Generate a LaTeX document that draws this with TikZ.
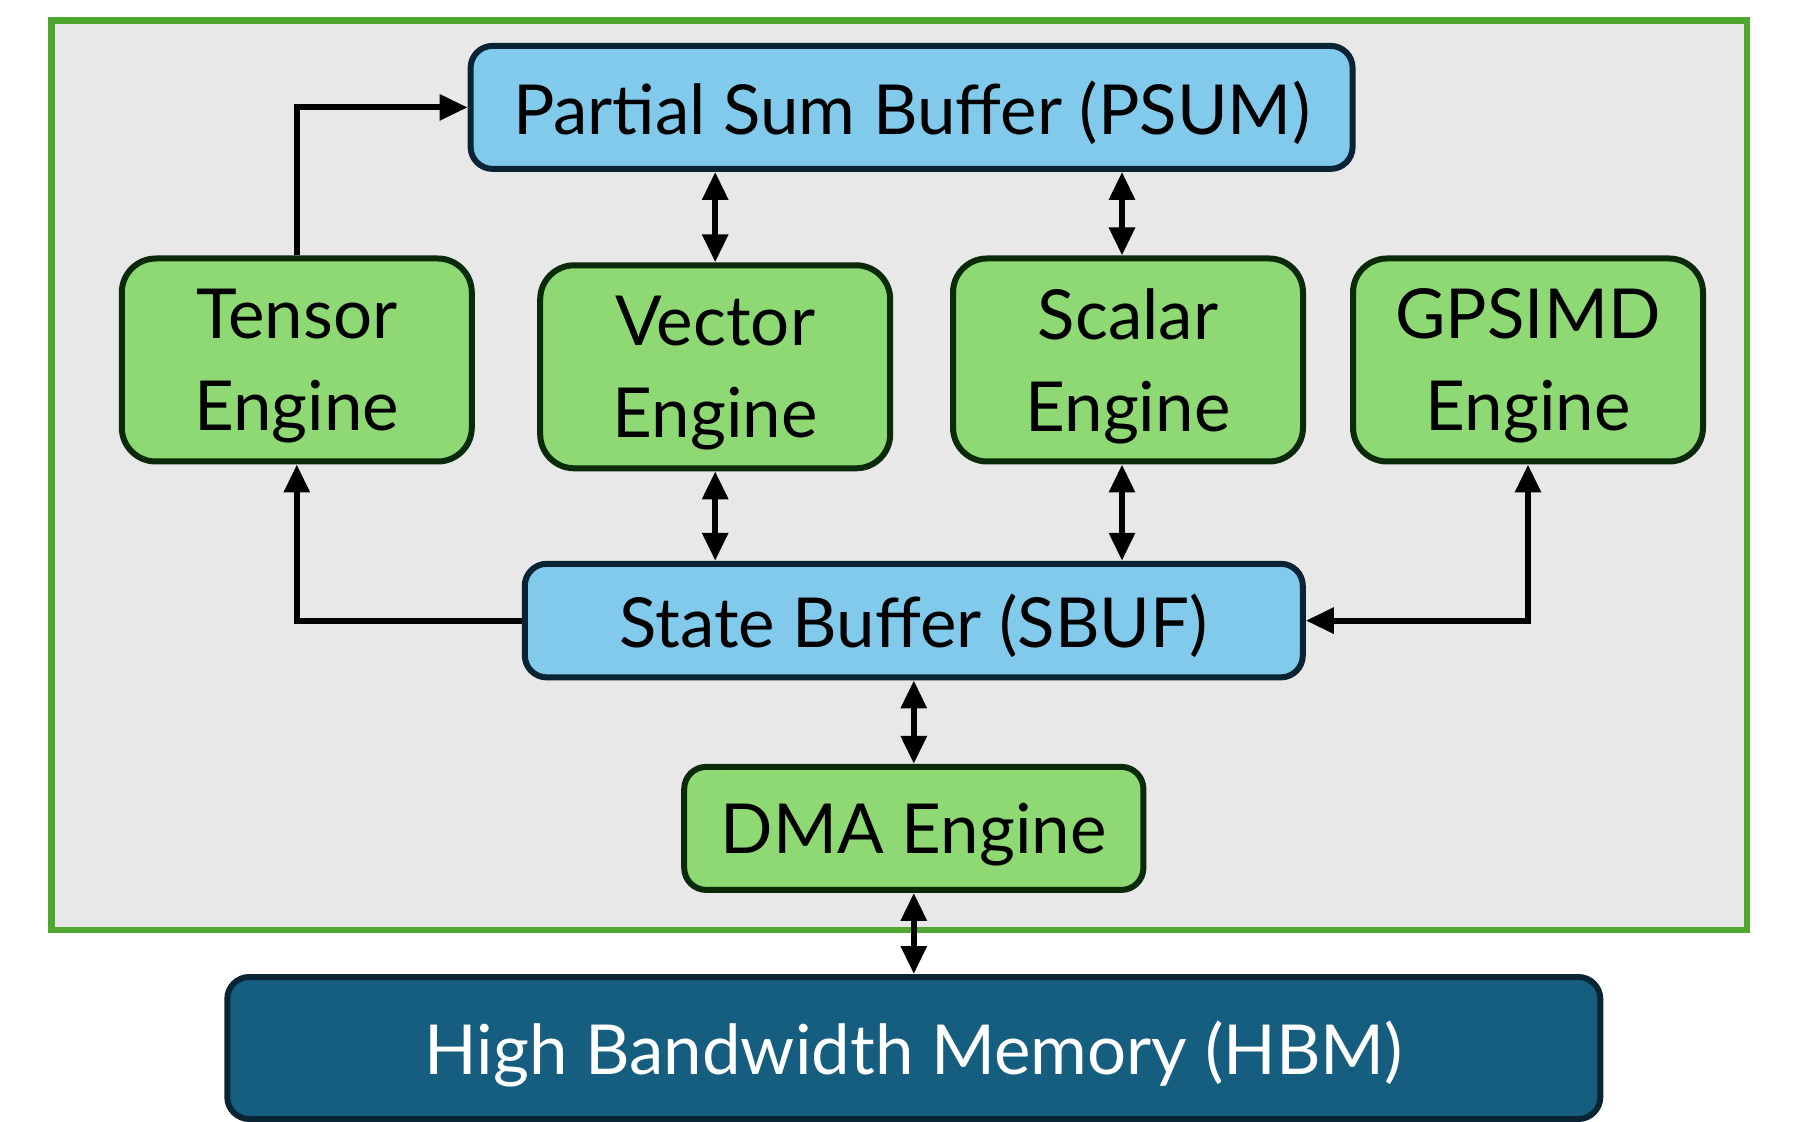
\documentclass[tikz,border=0pt]{standalone}
\usepackage{fontspec}
\setmainfont{Lato}
\usetikzlibrary{arrows.meta}
\definecolor{bufblue}{HTML}{82CAEB}
\definecolor{bufedge}{HTML}{0B2433}
\definecolor{enggreen}{HTML}{8ED974}
\definecolor{engedge}{HTML}{0A2A0A}
\definecolor{hbmblue}{HTML}{165E80}
\definecolor{framegreen}{HTML}{4EA72E}
\definecolor{framefill}{HTML}{E8E8E8}
\tikzset{
  txt/.style={font=\fontsize{34.5}{46}\selectfont, align=center, inner sep=0pt, text depth=0pt},
  bufbox/.style={txt, draw=bufedge, fill=bufblue, line width=3pt, rounded corners=11pt},
  engbox/.style={txt, draw=engedge, fill=enggreen, line width=3pt, rounded corners=17pt,
    minimum width=175pt, minimum height=101.5pt},
  hbmbox/.style={txt, draw=bufedge, fill=hbmblue, text=white, line width=3pt, rounded corners=11pt},
  conn/.style={line width=3pt, black},
  tip/.style={-{Triangle[width=12.5pt,length=14pt]}},
  biarr/.style={{Triangle[width=12.5pt,length=14pt]}-{Triangle[width=12.5pt,length=14pt]}}
}
\begin{document}
\begin{tikzpicture}[x=1pt,y=-1pt]
\useasboundingbox (0,0) rectangle (900,561);
\draw[draw=framegreen, fill=framefill, line width=3.4pt] (25.9,10.4) rectangle (873.5,465);
\node[bufbox, minimum width=441pt, minimum height=61.5pt] (psum) at (455.8,53.7) {Partial Sum Buffer (PSUM)};
\node[engbox] (tensor) at (148.4,180) {Tensor\\Engine};
\node[engbox] (vector) at (357.6,183.4) {Vector\\Engine};
\node[engbox] (scalar) at (564,180) {Scalar\\Engine};
\node[engbox] (gpsimd) at (764,180) {GPSIMD\\Engine};
\node[bufbox, minimum width=389pt, minimum height=56.8pt] (sbuf) at (456.9,310.3) {State Buffer (SBUF)};
\node[engbox, minimum width=229.6pt, minimum height=61.5pt, rounded corners=11pt] (dma) at (456.9,414.2) {DMA Engine};
\node[hbmbox, minimum width=686.5pt, minimum height=71pt] (hbm) at (456.9,524) {High Bandwidth Memory (HBM)};
\draw[conn, tip] (tensor.north) |- (psum.west);
\draw[conn, biarr] (psum.south -| vector.north) -- (vector.north);
\draw[conn, biarr] ([xshift=-3pt]psum.south -| scalar.north) -- ([xshift=-3pt]scalar.north);
\draw[conn, biarr] (vector.south) -- (vector.south |- sbuf.north);
\draw[conn, biarr] ([xshift=-3pt]scalar.south) -- ([xshift=-3pt]scalar.south |- sbuf.north);
\draw[conn, tip] (sbuf.west) -| (tensor.south);
\draw[conn, biarr] (gpsimd.south) |- (sbuf.east);
\draw[conn, biarr] (sbuf.south) -- (dma.north);
\draw[conn, biarr] (dma.south) -- (hbm.north);
\end{tikzpicture}
\end{document}
